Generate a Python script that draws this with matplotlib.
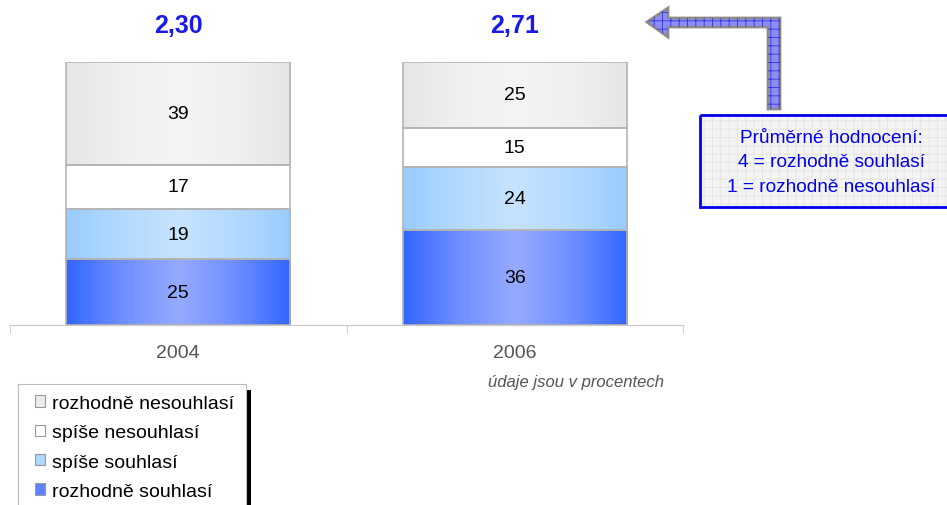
import numpy as np
import matplotlib
matplotlib.use("Agg")
import matplotlib.pyplot as plt
from matplotlib.patches import Rectangle, Polygon
from matplotlib.colors import LinearSegmentedColormap

plt.rcParams["font.family"] = ["Liberation Sans", "DejaVu Sans"]
plt.rcParams["hatch.linewidth"] = 0.6

# data
roky = ["2004", "2006"]
rozhodne_souhlasi = [25, 36]
spise_souhlasi = [19, 24]
spise_nesouhlasi = [17, 15]
rozhodne_nesouhlasi = [39, 25]
prumer = [2.30, 2.71]

serie = [
    ("rozhodně souhlasí", rozhodne_souhlasi, ["#3366FF", "#6F8FFF", "#96AAFF", "#6F8FFF", "#3366FF"]),
    ("spíše souhlasí", spise_souhlasi, ["#99CCFF", "#B3DAFF", "#C6E3FF", "#B3DAFF", "#99CCFF"]),
    ("spíše nesouhlasí", spise_nesouhlasi, ["#FFFFFF", "#FFFFFF"]),
    ("rozhodně nesouhlasí", rozhodne_nesouhlasi, ["#E6E6E6", "#F0F0F0", "#F4F4F4", "#F0F0F0", "#E6E6E6"]),
]
barvy_legendy = {"rozhodně souhlasí": "#6080FF", "spíše souhlasí": "#B0D8FF",
                 "spíše nesouhlasí": "#FFFFFF", "rozhodně nesouhlasí": "#EBEBEB"}

W, H = 947, 506
fig = plt.figure(figsize=(W / 100, H / 100), dpi=100)
ax = fig.add_axes([10 / W, 180 / H, 673 / W, 263 / H])

x = np.arange(len(roky))
sirka = 0.667
spodek = np.zeros(len(roky))
handles = {}
for nazev, hodnoty, barvy in serie:
    cmap = LinearSegmentedColormap.from_list(nazev, barvy)
    grad = np.linspace(0, 1, 256).reshape(1, -1)
    bars = ax.bar(x, hodnoty, sirka, bottom=spodek, facecolor="none",
                  edgecolor="#B4B4B4", linewidth=1.2, zorder=3)
    for b, v, s in zip(bars, hodnoty, spodek):
        x0 = b.get_x()
        im = ax.imshow(grad, cmap=cmap, aspect="auto", zorder=2,
                       extent=[x0, x0 + sirka, s, s + v])
        im.set_clip_path(b)
        ax.text(b.get_x() + sirka / 2, s + v / 2, str(v), ha="center",
                va="center", fontsize=14, color="black", zorder=4)
    handles[nazev] = Rectangle((0, 0), 1, 1, facecolor=barvy_legendy[nazev],
                               edgecolor="#999999", linewidth=0.8)
    spodek = spodek + np.array(hodnoty)

ax.set_xlim(-0.5, len(roky) - 0.5)
ax.set_ylim(0, 100)
for s in ["top", "right", "left"]:
    ax.spines[s].set_visible(False)
ax.spines["bottom"].set_color("#C8C8C8")
ax.set_yticks([])
ax.set_xticks(x)
ax.set_xticklabels(roky, fontsize=14, color="#555555")
ax.tick_params(axis="x", which="major", length=0, pad=14)
ax.set_xticks([-0.5, 0.5, 1.5], minor=True)
ax.tick_params(axis="x", which="minor", length=6, color="#C8C8C8")

for xi, p in zip(x, prumer):
    ax.text(xi, 114, f"{p:.2f}".replace(".", ","), ha="center", va="center",
            fontsize=18, fontweight="bold", color="#1A1AE6", clip_on=False)

# overlay v pixelech
ov = fig.add_axes([0, 0, 1, 1], zorder=5)
ov.set_xlim(0, W)
ov.set_ylim(H, 0)
ov.axis("off")

ov.text(664, 382, "údaje jsou v procentech", ha="right", va="center",
        fontsize=12, style="italic", color="#555555")

# sipka
sipka = [(647, 23), (668, 9), (668, 19), (780, 19), (780, 110), (768, 110),
         (768, 28), (668, 28), (668, 38)]
ov.add_patch(Polygon(sipka, closed=True, facecolor="#8C8CFF", edgecolor="#8C8C8C",
                     linewidth=2, zorder=1))
ov.add_patch(Polygon(sipka, closed=True, facecolor="none", edgecolor="#3333DD",
                     linewidth=0, hatch="++", zorder=2))

# box s vysvetlivkou
ov.add_patch(Rectangle((700, 116), 250, 92, facecolor="#F4F4F4", edgecolor="#E4E4E4",
                       linewidth=0, hatch="++", zorder=1))
ov.add_patch(Rectangle((700, 116), 250, 92, facecolor="none", edgecolor="#0000EE",
                       linewidth=2, zorder=2))
for yy, t in zip([138, 162, 187], ["Průměrné hodnocení:", "4 = rozhodně souhlasí",
                                  "1 = rozhodně nesouhlasí"]):
    ov.text(831, yy, t, ha="center", va="center", fontsize=13.7, color="#0000EE", zorder=3)

# ramecek a stin legendy
ov.add_patch(Rectangle((246, 391), 5, 120, facecolor="black", edgecolor="none", zorder=0))
ov.add_patch(Rectangle((18, 385), 228, 130, facecolor="white", edgecolor="#BBBBBB",
                       linewidth=0.8, zorder=1))

poradi = ["rozhodně nesouhlasí", "spíše nesouhlasí", "spíše souhlasí", "rozhodně souhlasí"]
leg = fig.legend([handles[n] for n in poradi], poradi, loc="upper left",
                 bbox_to_anchor=(35 / W, 1 - 396 / H), fontsize=14, frameon=False,
                 handlelength=0.52, handleheight=0.52, handletextpad=0.36,
                 labelspacing=0.63, borderpad=0, borderaxespad=0)
leg.set_zorder(6)

fig.savefig("out.png", dpi=100)
